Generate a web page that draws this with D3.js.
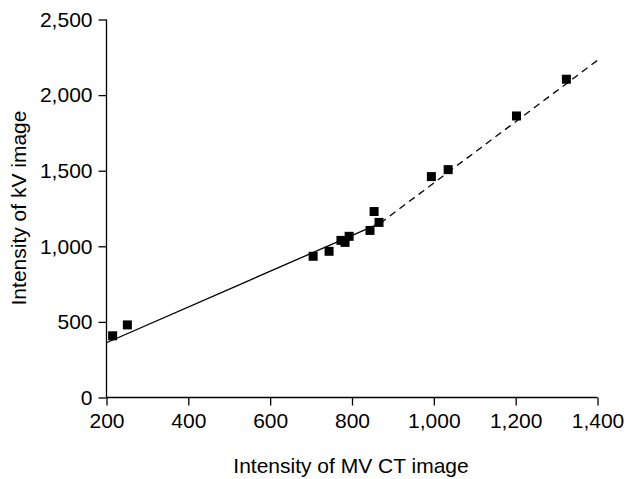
<!DOCTYPE html>
<html>
<head>
<meta charset="utf-8">
<script src="https://d3js.org/d3.v7.min.js"></script>
<style>
  body { margin: 0; background: #fff; }
  text { font-family: "Liberation Sans", Arial, sans-serif; }
</style>
</head>
<body>
<div id="chart"></div>
<script>
// MV CT intensity vs kV intensity
const mvValues = [215, 251, 705, 744, 773, 783, 793, 844, 854, 866, 994, 1035, 1202, 1324];
const kvValues = [408, 480, 934, 967, 1039, 1026, 1066, 1105, 1230, 1158, 1461, 1507, 1862, 2105];

// fit lines
const solidLine = [[200, 362], [869, 1153]];
const dashedLine = [[869, 1153], [1400, 2230]];

const xTicks = [200, 400, 600, 800, 1000, 1200, 1400];
const yTicks = [0, 500, 1000, 1500, 2000, 2500];

const w = 627, h = 479;
const svg = d3.select("#chart").append("svg")
  .attr("width", w)
  .attr("height", h);

const x = d3.scaleLinear().domain([200, 1400]).range([106.5, 597.5]);
const y = d3.scaleLinear().domain([0, 2500]).range([397.5, 19.5]);
const fmt = d3.format(",");

const xAxis = svg.append("g")
  .attr("transform", "translate(0,397.5)")
  .call(d3.axisBottom(x).tickValues(xTicks).tickFormat(fmt).tickSizeOuter(0).tickSize(8).tickPadding(6));
const yAxis = svg.append("g")
  .attr("transform", "translate(106.5,0)")
  .call(d3.axisLeft(y).tickValues(yTicks).tickFormat(fmt).tickSizeOuter(0).tickSize(8).tickPadding(6));

[xAxis, yAxis].forEach(a => {
  a.select(".domain").remove();
  a.selectAll("line").attr("stroke", "#000").attr("stroke-width", 1.3);
  a.selectAll("text").attr("fill", "#000").style("font-size", "21px");
});
xAxis.selectAll("text").attr("dy", "0.78em");

// axis lines drawn through the scales
svg.append("line")
  .attr("x1", x(200)).attr("x2", x(1400))
  .attr("y1", y(0)).attr("y2", y(0))
  .attr("stroke", "#000").attr("stroke-width", 1.3);
svg.append("line")
  .attr("x1", x(200)).attr("x2", x(200))
  .attr("y1", y(0)).attr("y2", y(2500))
  .attr("stroke", "#000").attr("stroke-width", 1.3);

const line = d3.line().x(d => x(d[0])).y(d => y(d[1]));
svg.append("path")
  .attr("d", line(solidLine))
  .attr("fill", "none")
  .attr("stroke", "#000")
  .attr("stroke-width", 1.3);
svg.append("path")
  .attr("d", line(dashedLine))
  .attr("fill", "none")
  .attr("stroke", "#000")
  .attr("stroke-width", 1.3)
  .attr("stroke-dasharray", "7,5");

const pts = mvValues.map((v, i) => [v, kvValues[i]]);
const sz = 9;
svg.selectAll("rect.pt")
  .data(pts)
  .join("rect")
    .attr("class", "pt")
    .attr("x", d => x(d[0]) - sz / 2)
    .attr("y", d => y(d[1]) - sz / 2)
    .attr("width", sz)
    .attr("height", sz)
    .attr("fill", "#000");

svg.append("text")
  .attr("x", 351)
  .attr("y", 473)
  .attr("text-anchor", "middle")
  .style("font-size", "21px")
  .text("Intensity of MV CT image");

svg.append("text")
  .attr("transform", "translate(26,208) rotate(-90)")
  .attr("text-anchor", "middle")
  .style("font-size", "21px")
  .text("Intensity of kV image");
</script>
</body>
</html>
